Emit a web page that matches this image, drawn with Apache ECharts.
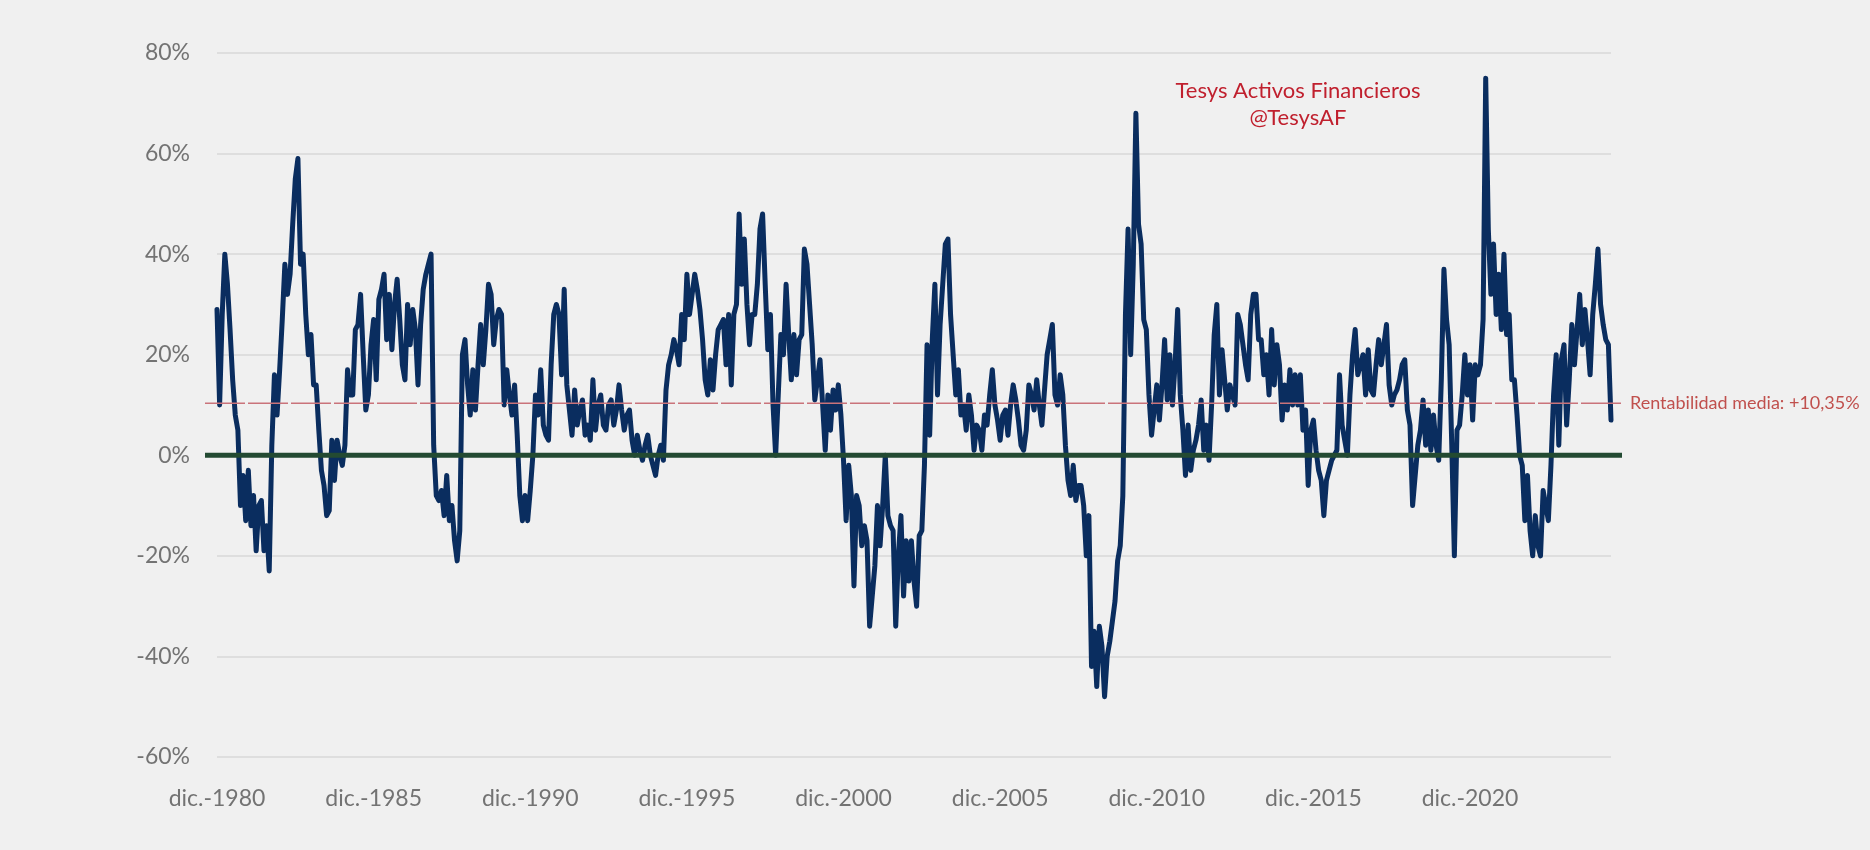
<!DOCTYPE html>
<html>
<head>
<meta charset="utf-8">
<script src="https://cdn.jsdelivr.net/npm/echarts@6/dist/echarts.min.js"></script>
<style>
  html, body { margin: 0; padding: 0; background: #f0f0f0; }
  #chart { width: 1870px; height: 850px; }
</style>
</head>
<body>
<div id="chart"></div>
<script>
// Month names used for the monthly category axis (Spanish, Excel style)
const MONTHS = ['ene.', 'feb.', 'mar.', 'abr.', 'may.', 'jun.', 'jul.', 'ago.', 'sept.', 'oct.', 'nov.', 'dic.'];
const START_YEAR = 1980;
const START_MONTH = 11; // dic.

// Rolling 1-year return (%), one value per month
const ret_dic1980 = [
  29, 10, 28, 40, 34, 25, 15, 8, 5, -10,
  -4, -13, -3, -14, -8, -19, -10, -9, -19, -14,
  -23, 2, 16, 8, 17, 27, 38, 32, 36, 46,
  55, 59, 38, 40, 28, 20, 24, 14, 14, 5,
  -3, -6, -12, -11, 3, -5, 3, 0, -2, 2,
  17, 12, 12, 25, 26, 32, 20, 9, 12, 22,
  27, 15, 31, 33, 36, 23, 32, 21, 30, 35,
  27, 18, 15, 30, 22, 29, 25, 14, 26, 33,
  36, 38, 40, 2, -8, -9, -7, -12, -4, -13,
  -10, -17, -21, -15, 20, 23, 14, 8, 17, 9,
  18, 26, 18, 25, 34, 32, 22, 27, 29, 28,
  10, 17, 12, 8, 14, 4, -8, -13, -8, -13
];
const ret_dic1990 = [
  -7, 0, 12, 8, 17, 6, 4, 3, 18, 28,
  30, 28, 16, 33, 14, 9, 4, 13, 6, 9,
  11, 4, 6, 3, 15, 5, 10, 12, 6, 5,
  10, 11, 6, 9, 14, 9, 5, 8, 9, 3,
  0, 4, 1, -1, 2, 4, 0, -2, -4, 0,
  2, -1, 13, 18, 20, 23, 21, 18, 28, 23,
  36, 28, 32, 36, 33, 29, 23, 15, 12, 19,
  13, 20, 25, 26, 27, 18, 28, 14, 28, 30,
  48, 34, 43, 30, 22, 28, 28, 34, 45, 48,
  34, 21, 28, 10, 0, 12, 24, 20, 34, 24,
  15, 24, 16, 23, 24, 41, 38, 30, 22, 11,
  15, 19, 10, 1, 12, 5, 13, 9, 14, 8
];
const ret_dic2000 = [
  -1, -13, -2, -8, -26, -8, -10, -18, -14, -17,
  -34, -28, -22, -10, -18, -10, 0, -12, -14, -15,
  -34, -20, -12, -28, -17, -25, -17, -25, -30, -16,
  -15, -2, 22, 4, 23, 34, 12, 26, 34, 42,
  43, 28, 20, 12, 17, 8, 10, 5, 12, 8,
  1, 6, 5, 1, 8, 6, 12, 17, 10, 7,
  3, 8, 9, 4, 10, 14, 11, 7, 2, 1,
  5, 14, 12, 9, 15, 10, 6, 13, 20, 23,
  26, 12, 10, 16, 12, 2, -5, -8, -2, -9,
  -6, -6, -10, -20, -12, -42, -35, -46, -34, -38,
  -48, -40, -37, -33, -29, -21, -18, -8, 28, 45,
  20, 38, 68, 46, 42, 27, 25, 12, 4, 9
];
const ret_dic2010 = [
  14, 7, 14, 23, 11, 20, 10, 18, 29, 12,
  5, -4, 6, -3, 1, 3, 6, 11, 1, 6,
  -1, 10, 24, 30, 12, 21, 15, 9, 14, 12,
  10, 28, 26, 22, 18, 15, 28, 32, 32, 23,
  23, 16, 20, 12, 25, 14, 22, 18, 7, 14,
  9, 17, 10, 16, 10, 16, 5, 9, -6, 5,
  7, 1, -3, -5, -12, -5, -3, -1, 0, 1,
  16, 6, 3, 0, 12, 20, 25, 16, 18, 20,
  12, 21, 13, 12, 18, 23, 18, 22, 26, 14,
  10, 12, 13, 15, 18, 19, 9, 6, -10, -4,
  2, 5, 11, 2, 9, 1, 8, 2, -1, 15,
  37, 27, 22, 2, -20, 5, 6, 12, 20, 12
];
const ret_dic2020 = [
  18, 7, 18, 16, 18, 27, 75, 45, 32, 42,
  28, 36, 25, 40, 24, 28, 15, 15, 8, 0,
  -2, -13, -4, -15, -20, -12, -18, -20, -7, -10,
  -13, -2, 12, 20, 2, 19, 22, 6, 15, 26,
  18, 25, 32, 22, 29, 23, 16, 28, 34, 41,
  30, 26, 23, 22, 7
];

const MEAN_RETURN = 10.35;
const MEAN_LABEL = 'Rentabilidad media: +10,35%';
const Y_TICKS = { min: -60, max: 80, interval: 20 };
const LABEL_EVERY = 60; // months between "dic.-YYYY" labels

const returns = [].concat(ret_dic1980, ret_dic1990, ret_dic2000, ret_dic2010, ret_dic2020);
const categories = returns.map((_, i) => {
  const m = (START_MONTH + i) % 12;
  const y = START_YEAR + Math.floor((START_MONTH + i) / 12);
  return MONTHS[m] + '-' + y;
});

const FONT = 'Lato, "Open Sans", sans-serif';
const chart = echarts.init(document.getElementById('chart'), null, { renderer: 'canvas' });

chart.setOption({
  backgroundColor: '#f0f0f0',
  animation: false,
  grid: [
    { left: 217, right: 259, top: 53, bottom: 93 },
    { left: 205, right: 248, top: 53, bottom: 93 }
  ],
  xAxis: [
    {
      type: 'category', gridIndex: 0, data: categories, boundaryGap: false,
      axisLine: { show: false }, axisTick: { show: false }, splitLine: { show: false },
      axisLabel: {
        interval: LABEL_EVERY - 1, margin: 30, color: '#737373',
        fontFamily: FONT, fontSize: 23
      }
    },
    { type: 'value', gridIndex: 1, min: 0, max: 1, show: false }
  ],
  yAxis: [
    {
      type: 'value', gridIndex: 0, min: Y_TICKS.min, max: Y_TICKS.max, interval: Y_TICKS.interval,
      axisLine: { show: false }, axisTick: { show: false },
      splitLine: { lineStyle: { color: '#d9d9d9', width: 1.5 } },
      axisLabel: {
        formatter: v => v + '%', margin: 27, color: '#737373',
        fontFamily: FONT, fontSize: 23
      }
    },
    { type: 'value', gridIndex: 1, min: Y_TICKS.min, max: Y_TICKS.max, show: false }
  ],
  series: [
    {
      name: 'Rentabilidad 1 año', type: 'line', xAxisIndex: 0, yAxisIndex: 0,
      data: returns, showSymbol: false, symbol: 'none', z: 2,
      lineStyle: { color: '#0a2d5f', width: 5, cap: 'round', join: 'round' }
    },
    {
      name: 'cero', type: 'line', xAxisIndex: 1, yAxisIndex: 1,
      data: [[0, 0], [1, 0]], symbol: 'none', z: 4, silent: true,
      lineStyle: { color: '#234a32', width: 5 }
    },
    {
      name: 'media', type: 'line', xAxisIndex: 1, yAxisIndex: 1,
      data: [[0, MEAN_RETURN], [1, MEAN_RETURN]], symbol: 'none', z: 3, silent: true,
      lineStyle: { color: '#c9737a', width: 1.5, type: [40, 3] },
      endLabel: {
        show: true, formatter: MEAN_LABEL, distance: 8,
        color: '#c0504d', fontFamily: FONT, fontSize: 18
      }
    }
  ],
  graphic: [
    {
      type: 'text', x: 1298, y: 77, z: 10,
      style: {
        text: 'Tesys Activos Financieros\n@TesysAF',
        fill: '#c0202e', font: '22px ' + FONT,
        textAlign: 'center', textVerticalAlign: 'top', lineHeight: 27
      }
    }
  ]
});
</script>
</body>
</html>
